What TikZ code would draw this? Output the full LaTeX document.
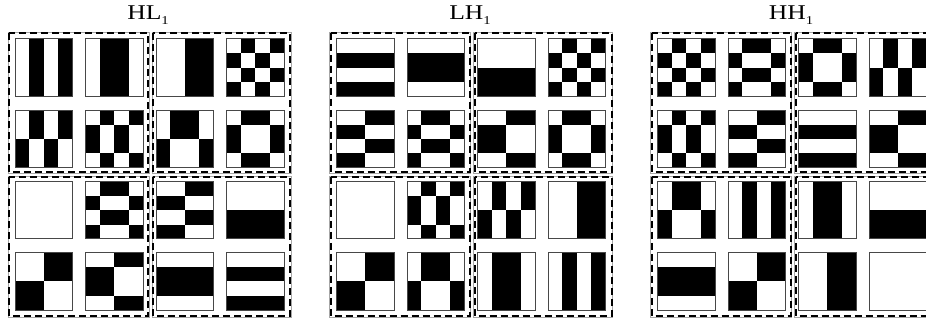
\documentclass[tikz,border=0pt]{standalone}
\usepackage{fontspec}
\setmainfont{Liberation Serif}
% Walsh bit: code 0=0000, 1=0011, 2=0110, 3=0101
\def\wbit#1#2{\ifcase#1 0\or\ifcase#2 0\or0\or1\or1\fi\or\ifcase#2 0\or1\or1\or0\fi\or\ifcase#2 0\or1\or0\or1\fi\fi}
\def\ts{57.5}
\def\cs{14.375}
\tikzset{
  tileedge/.style={draw=black!72, line width=1pt},
  quadgray/.style={draw=black!35, line width=0.8pt},
  quaddash/.style={draw=black, line width=2pt, dash pattern=on 7pt off 4pt},
  lbl/.style={anchor=base, inner sep=0pt, font=\fontsize{21}{21}\selectfont}
}
\newcommand\wtile[4]{%
  \foreach \ii in {0,...,3}{\foreach \jj in {0,...,3}{%
    \ifodd\numexpr\wbit{#3}{\ii}+\wbit{#4}{\jj}\relax
      \fill[black] ({#1+\jj*\cs},{#2+\ii*\cs}) rectangle ++(\cs,\cs);
    \fi}}%
  \draw[tileedge] (#1,#2) rectangle ++(\ts,\ts);
}
\newcommand\wpanel[2]{%
  \foreach \rr/\cc [count=\k from 0] in {#2}{%
    \pgfmathtruncatemacro\ti{\k/4}%
    \pgfmathtruncatemacro\tj{mod(\k,4)}%
    \pgfmathsetmacro\tx{#1+\tj*70.5}%
    \pgfmathsetmacro\ty{39+\ti*71.2}%
    \wtile{\tx}{\ty}{\rr}{\cc}%
  }%
  \foreach \qa/\qb/\qc/\qd in {-6/33/133/172, 138/33/275/172, -6/177/133/316, 138/177/275/316}{%
    \draw[quadgray] ({#1+\qa-1},{\qb-1}) rectangle ({#1+\qc+1},{\qd+1});
    \draw[quaddash] ({#1+\qa},{\qb}) rectangle ({#1+\qc},{\qd});
  }%
}
\begin{document}
\begin{tikzpicture}[x=1pt,y=-1pt]
\useasboundingbox[fill=white] (0,0) rectangle (926,320);
\wpanel{15}{0/3,0/2,0/1,3/3, 1/3,2/3,1/2,2/2, 0/0,3/2,3/1,1/0, 1/1,2/1,2/0,3/0}
\wpanel{336.5}{3/0,2/0,1/0,3/3, 3/1,3/2,2/1,2/2, 0/0,2/3,1/3,0/1, 1/1,1/2,0/2,0/3}
\wpanel{657.5}{3/3,3/2,2/2,1/3, 2/3,3/1,3/0,2/1, 1/2,0/3,0/2,1/0, 2/0,1/1,0/1,0/0}
\node[lbl] (lblHL) at (148,20) {\scalebox{1.22}[1]{HL\raisebox{-5pt}{\fontsize{12}{12}\selectfont 1}}};
\node[lbl] (lblLH) at (470,20) {\scalebox{1.22}[1]{LH\raisebox{-5pt}{\fontsize{12}{12}\selectfont 1}}};
\node[lbl] (lblHH) at (791,20) {\scalebox{1.22}[1]{HH\raisebox{-5pt}{\fontsize{12}{12}\selectfont 1}}};
\end{tikzpicture}
\end{document}
